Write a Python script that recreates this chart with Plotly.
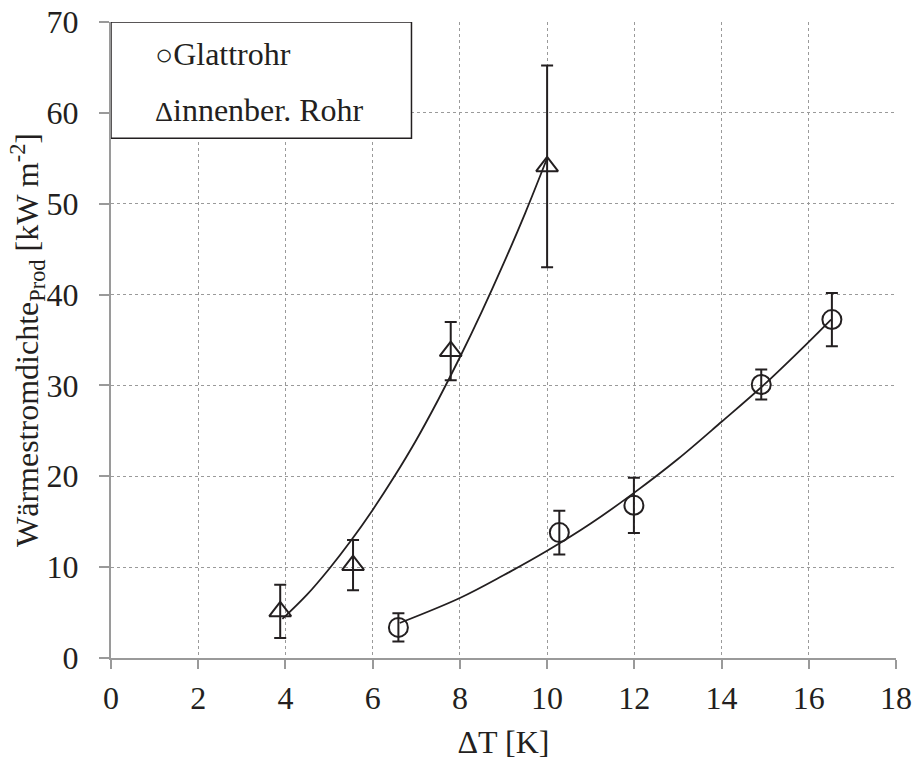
import plotly.graph_objects as go

# --- data ---
glatt_x = [6.59, 10.28, 11.99, 14.91, 16.53]
glatt_y = [3.37, 13.8, 16.8, 30.1, 37.25]
glatt_err = [1.56, 2.4, 3.04, 1.65, 2.93]

innen_x = [3.88, 5.55, 7.79, 10.0]
innen_y = [5.13, 10.22, 33.77, 54.1]
innen_err = [2.94, 2.77, 3.2, 11.1]

# trend lines
glatt_trend_x = [6.62, 8, 9, 10, 11, 12, 13, 14, 15, 16, 16.51]
glatt_trend_y = [3.85, 6.6, 9.1, 11.8, 14.8, 18.2, 21.9, 26.0, 30.2, 34.8, 37.25]

innen_trend_x = [3.93, 4.5, 5, 5.5, 6, 6.5, 7, 7.5, 8, 8.5, 9, 9.5, 10]
innen_trend_y = [4.3, 7.0, 9.8, 12.9, 16.3, 20.0, 24.0, 28.4, 33.1, 38.1, 43.4, 49.0, 55.0]

legend_labels = ["Glattrohr", "innenber. Rohr"]
x_title = "ΔT [K]"
y_title = "Wärmestromdichte<sub>Prod</sub> [kW m<sup>-2</sup>]"

FONT = "Liberation Serif"
FS = 32
BLACK = "#231f20"
GRAY = "#9a9a9a"

fig = go.Figure()

fig.add_trace(go.Scatter(x=glatt_trend_x, y=glatt_trend_y, mode="lines",
                         line=dict(color=BLACK, width=1.8, shape="spline"),
                         showlegend=False, hoverinfo="skip"))
fig.add_trace(go.Scatter(x=innen_trend_x, y=innen_trend_y, mode="lines",
                         line=dict(color=BLACK, width=1.8, shape="spline"),
                         showlegend=False, hoverinfo="skip"))

fig.add_trace(go.Scatter(x=glatt_x, y=glatt_y, mode="markers", name=legend_labels[0],
                         marker=dict(symbol="circle-open", size=19, color=BLACK,
                                     line=dict(width=2, color=BLACK)),
                         error_y=dict(type="data", array=glatt_err, visible=True,
                                      color=BLACK, thickness=2, width=6),
                         showlegend=False))
fig.add_trace(go.Scatter(x=innen_x, y=innen_y, mode="markers", name=legend_labels[1],
                         marker=dict(symbol="triangle-up-open", size=19, color=BLACK,
                                     line=dict(width=2, color=BLACK)),
                         error_y=dict(type="data", array=innen_err, visible=True,
                                      color=BLACK, thickness=2, width=6),
                         showlegend=False))

# legend box
fig.add_shape(type="rect", xref="x", yref="y", x0=0, x1=6.89, y0=57.2, y1=70,
              line=dict(color=BLACK, width=1.5), fillcolor="white", layer="above")
fig.add_annotation(xref="x", yref="y", x=0.97, y=66.5, xanchor="left", yanchor="middle",
                   text="<span style='font-size:30px'>○</span>" + legend_labels[0],
                   showarrow=False, font=dict(family=FONT, size=FS, color=BLACK))
fig.add_annotation(xref="x", yref="y", x=0.97, y=60.3, xanchor="left", yanchor="middle",
                   text="<span style='font-size:28px'>Δ</span>" + legend_labels[1],
                   showarrow=False, font=dict(family=FONT, size=FS, color=BLACK))

# y axis title
fig.add_annotation(xref="paper", yref="paper", x=-0.107, y=0.5, xanchor="center",
                   yanchor="middle", textangle=-90, text=y_title, showarrow=False,
                   font=dict(family=FONT, size=FS, color=BLACK))

axis_common = dict(
    showline=True, linecolor=GRAY, linewidth=2,
    ticks="outside", tickcolor=GRAY, tickwidth=2,
    showgrid=True, gridcolor=GRAY, gridwidth=1, griddash="dot",
    zeroline=False, mirror=False, automargin=False,
    ticklabeloverflow="allow",
    tickfont=dict(family=FONT, size=FS, color=BLACK),
)

fig.update_xaxes(range=[0, 18], tick0=0, dtick=2, ticklen=9,
                 title=dict(text=x_title, font=dict(family=FONT, size=FS, color=BLACK), standoff=23),
                 ticklabelstandoff=2, **axis_common)
fig.update_yaxes(range=[0, 70], tick0=0, dtick=10, ticklen=10,
                 ticklabelstandoff=14, **axis_common)

fig.update_layout(width=916, height=760,
                  margin=dict(l=111, r=20, t=22, b=102),
                  plot_bgcolor="white", paper_bgcolor="white",
                  font=dict(family=FONT, size=FS, color=BLACK),
                  showlegend=False)

# remove the default page margin so the figure sits at the window's top-left corner
fig.write_html("out.html",
               config={"displayModeBar": False},
               post_script="document.body.style.margin='0';document.body.style.overflow='hidden';")
